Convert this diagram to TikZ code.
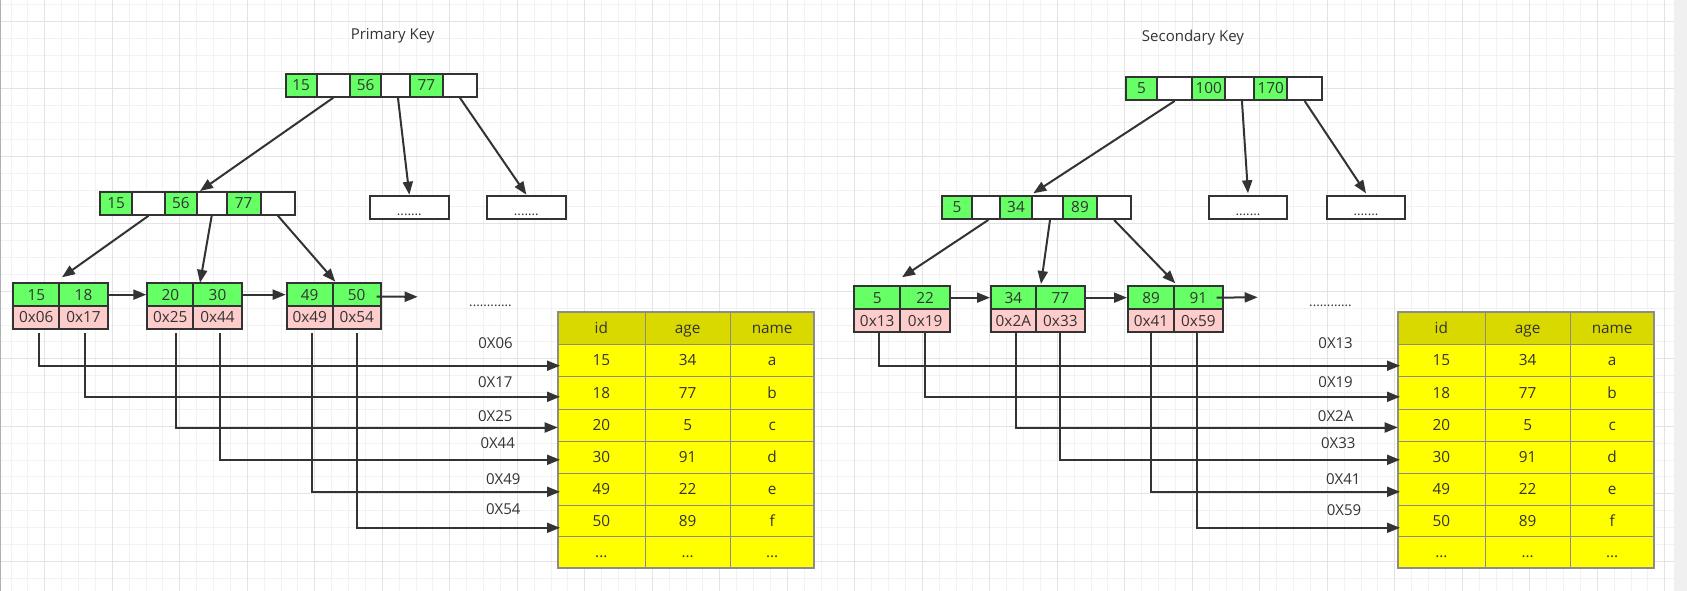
\documentclass[tikz,border=0pt]{standalone}
\usepackage{fontspec}
\setmainfont{Open Sans}
\usetikzlibrary{arrows.meta,calc}

\definecolor{ink}{HTML}{333333}
\definecolor{keyg}{HTML}{66FF66}
\definecolor{ptrp}{HTML}{FFCCCC}
\definecolor{rowy}{HTML}{FFFF00}
\definecolor{heady}{HTML}{D9D900}
\definecolor{tabline}{HTML}{8C8C8C}
\definecolor{gridmin}{HTML}{F2F2F2}
\definecolor{gridmaj}{HTML}{E3E3E3}
\definecolor{sidebar}{HTML}{F0F0F0}
\definecolor{edgeline}{HTML}{B0B0B0}

\tikzset{
  txt/.style={text=ink, inner sep=0pt, font=\fontsize{11.25}{13}\selectfont,
    text height=8.03pt, text depth=0pt},
  celltxt/.style={text=ink, inner sep=0pt, font=\fontsize{11.5}{13}\selectfont,
    text height=8.2pt, text depth=0pt},
  cell/.style={celltxt, draw=ink, line width=1.5pt},
  tabcell/.style={celltxt, draw=tabline, line width=0.75pt},
  conn/.style={draw=ink, line width=1.5pt, -{Triangle[length=9.75pt, width=7.5pt]}},
  gmin/.style={draw=gridmin, line width=0.75pt},
  gmaj/.style={draw=gridmaj, line width=0.75pt},
}

% one cell of a B+ tree node, given by its pixel edges
\newcommand\pxcell[7]{%
  \node[cell, fill=#6, minimum width={(#3-#2)*0.75pt},
        minimum height={(#5-#4)*0.75pt}] (#1) at ({(#2+#3)/2},{(#4+#5)/2}) {#7};}

% one row of the data table: prefix, row, top, bottom, fill, three values, x offset
\newcommand\tabrow[9]{%
  \node[tabcell, fill=#5, minimum width={87.3*0.75pt}, minimum height={(#4-#3)*0.75pt}]
    (#1#2c1) at ({601.35+#9},{(#3+#4)/2}) {#6};
  \node[tabcell, fill=#5, minimum width={85.3*0.75pt}, minimum height={(#4-#3)*0.75pt}]
    (#1#2c2) at ({687.65+#9},{(#3+#4)/2}) {#7};
  \node[tabcell, fill=#5, minimum width={83.7*0.75pt}, minimum height={(#4-#3)*0.75pt}]
    (#1#2c3) at ({772.15+#9},{(#3+#4)/2}) {#8};}

% the whole clustered table, shifted right by #2
\newcommand\datatable[2]{%
  \tabrow{#1}{0}{312}{344.3}{heady}{id}{age}{name}{#2}
  \tabrow{#1}{1}{344.3}{376.7}{rowy}{15}{34}{a}{#2}
  \tabrow{#1}{2}{376.7}{409.3}{rowy}{18}{77}{b}{#2}
  \tabrow{#1}{3}{409.3}{441.7}{rowy}{20}{5}{c}{#2}
  \tabrow{#1}{4}{441.7}{473.3}{rowy}{30}{91}{d}{#2}
  \tabrow{#1}{5}{473.3}{505.3}{rowy}{49}{22}{e}{#2}
  \tabrow{#1}{6}{505.3}{536.7}{rowy}{50}{89}{f}{#2}
  \tabrow{#1}{7}{536.7}{567.7}{rowy}{...}{...}{...}{#2}
  \node[draw=tabline, line width=1.5pt, inner sep=0pt, minimum width={256.3*0.75pt},
        minimum height={255.7*0.75pt}] (#1frame) at ({685.85+#2},439.85) {};}

\begin{document}
\begin{tikzpicture}[x=0.75pt, y=-0.75pt]
  \useasboundingbox (0,0) rectangle (1687,591);
  \fill[white] (0,0) rectangle (1687,591);

  % background grid
  \foreach \i in {0,...,98} \draw[gmin] ({11.05+\i*16.875},0) -- ++(0,591);
  \foreach \j in {0,...,34} \draw[gmin] (0,{4.43+\j*16.875}) -- (1674.3,{4.43+\j*16.875});
  \foreach \i in {0,...,24} \draw[gmaj] ({44.8+\i*67.5},0) -- ++(0,591);
  \foreach \j in {0,...,8} \draw[gmaj] (0,{21.3+\j*67.5}) -- (1674.3,{21.3+\j*67.5});
  \fill[sidebar] (1674.3,0) rectangle (1687,591);
  \draw[edgeline, line width=0.75pt] (0.5,0) -- (0.5,591);

  % ---------------- primary key index ----------------
  \node[txt] (ptitle) at (392.6,34) {Primary Key};

  \pxcell{pa1}{285.7}{316.7}{74}{96.7}{keyg}{15}
  \pxcell{pa2}{316.7}{350}{74}{96.7}{white}{}
  \pxcell{pa3}{350}{381.3}{74}{96.7}{keyg}{56}
  \pxcell{pa4}{381.3}{410}{74}{96.7}{white}{}
  \pxcell{pa5}{410}{442.7}{74}{96.7}{keyg}{77}
  \pxcell{pa6}{442.7}{477}{74}{96.7}{white}{}

  \pxcell{pbox1}{369.7}{449}{195.7}{219.5}{white}{\fontsize{10}{12}\selectfont\raisebox{-2pt}{.......}}
  \pxcell{pbox2}{486.7}{566}{195.7}{219.5}{white}{\fontsize{10}{12}\selectfont\raisebox{-2pt}{.......}}

  \pxcell{pb1}{100}{132.3}{192}{214.7}{keyg}{15}
  \pxcell{pb2}{132.3}{165}{192}{214.7}{white}{}
  \pxcell{pb3}{165}{196.7}{192}{214.7}{keyg}{56}
  \pxcell{pb4}{196.7}{226.7}{192}{214.7}{white}{}
  \pxcell{pb5}{226.7}{260.7}{192}{214.7}{keyg}{77}
  \pxcell{pb6}{260.7}{295}{192}{214.7}{white}{}

  \pxcell{pL1t1}{13.3}{59.3}{283.3}{306}{keyg}{15}
  \pxcell{pL1t2}{59.3}{107.7}{283.3}{306}{keyg}{18}
  \pxcell{pL1b1}{13.3}{59.3}{306}{328.7}{ptrp}{0x06}
  \pxcell{pL1b2}{59.3}{107.7}{306}{328.7}{ptrp}{0x17}
  \pxcell{pL2t1}{147.3}{193.3}{283.3}{306}{keyg}{20}
  \pxcell{pL2t2}{193.3}{241.7}{283.3}{306}{keyg}{30}
  \pxcell{pL2b1}{147.3}{193.3}{306}{328.7}{ptrp}{0x25}
  \pxcell{pL2b2}{193.3}{241.7}{306}{328.7}{ptrp}{0x44}
  \pxcell{pL3t1}{286.7}{332.7}{283.3}{306}{keyg}{49}
  \pxcell{pL3t2}{332.7}{380.7}{283.3}{306}{keyg}{50}
  \pxcell{pL3b1}{286.7}{332.7}{306}{328.7}{ptrp}{0x49}
  \pxcell{pL3b2}{332.7}{380.7}{306}{328.7}{ptrp}{0x54}

  \node[txt, font=\fontsize{10}{12}\selectfont] (pmore) at (490.5,301.5) {............};
  \coordinate (pnext) at (417.7,296.8);

  \datatable{pt}{0}

  \coordinate (pe1) at (560,365.7);
  \coordinate (pe2) at (560,396.8);
  \coordinate (pe3) at (557.7,427.5);
  \coordinate (pe4) at (560,459.8);
  \coordinate (pe5) at (560,491.8);
  \coordinate (pe6) at (560,527.8);

  \draw[conn] (pa2.south) -- ($(pb3.north east)+(2.3,0)$);
  \draw[conn] ($(pa4.south)+(2.3,0)$) -- (pbox1.north);
  \draw[conn] (pa6.south) -- (pbox2.north);
  \draw[conn] (pb2.south) -- ($(pL1t1.north east)+(1.7,-5)$);
  \draw[conn] (pb4.south) -- ($(pL2t1.north east)+(5.7,0.5)$);
  \draw[conn] (pb6.south) -- ($(pL3t1.north east)+(1.6,-0.6)$);
  \draw[conn] (pL1t2.east) -- (pL2t1.west);
  \draw[conn] (pL2t2.east) -- (pL3t1.west);
  \draw[conn] ($(pL3t2.east)+(-5,2)$) -- (pnext);

  \draw[conn] ($(pL1b1.south)+(3,3.3)$) |- (pe1);
  \draw[conn] ($(pL1b2.south)+(1.5,3.3)$) |- (pe2);
  \draw[conn] ($(pL2b1.south)+(5.4,3.3)$) |- (pe3);
  \draw[conn] ($(pL2b2.south)+(2.5,3.3)$) |- (pe4);
  \draw[conn] ($(pL3b1.south)+(2,3.3)$) |- (pe5);
  \draw[conn] ($(pL3b2.south)+(0,3.3)$) |- (pe6);

  \node[txt] (plab1) at (495.5,342.7) {0X06};
  \node[txt] (plab2) at (495.3,381.7) {0X17};
  \node[txt] (plab3) at (495.3,415.7) {0X25};
  \node[txt] (plab4) at (497.7,443.3) {0X44};
  \node[txt] (plab5) at (503.3,479) {0X49};
  \node[txt] (plab6) at (503.3,509.3) {0X54};

  % ---------------- secondary key index ----------------
  \node[txt] (stitle) at (1193,35.8) {Secondary Key};

  \pxcell{sa1}{1125.7}{1157.3}{76.7}{100}{keyg}{5}
  \pxcell{sa2}{1157.3}{1192}{76.7}{100}{white}{}
  \pxcell{sa3}{1192}{1225.3}{76.7}{100}{keyg}{100}
  \pxcell{sa4}{1225.3}{1254}{76.7}{100}{white}{}
  \pxcell{sa5}{1254}{1287.3}{76.7}{100}{keyg}{170}
  \pxcell{sa6}{1287.3}{1322}{76.7}{100}{white}{}

  \pxcell{sbox1}{1209}{1287}{195.7}{219.5}{white}{\fontsize{10}{12}\selectfont\raisebox{-2pt}{.......}}
  \pxcell{sbox2}{1327}{1405}{195.7}{219.5}{white}{\fontsize{10}{12}\selectfont\raisebox{-2pt}{.......}}

  \pxcell{sb1}{941.7}{972.3}{196}{219}{keyg}{5}
  \pxcell{sb2}{972.3}{999.7}{196}{219}{white}{}
  \pxcell{sb3}{999.7}{1032.3}{196}{219}{keyg}{34}
  \pxcell{sb4}{1032.3}{1062.7}{196}{219}{white}{}
  \pxcell{sb5}{1062.7}{1097.3}{196}{219}{keyg}{89}
  \pxcell{sb6}{1097.3}{1131}{196}{219}{white}{}

  \pxcell{sL1t1}{854}{900.3}{286}{309.3}{keyg}{5}
  \pxcell{sL1t2}{900.3}{950}{286}{309.3}{keyg}{22}
  \pxcell{sL1b1}{854}{900.3}{309.3}{332}{ptrp}{0x13}
  \pxcell{sL1b2}{900.3}{950}{309.3}{332}{ptrp}{0x19}
  \pxcell{sL2t1}{991}{1035.7}{286}{309.3}{keyg}{34}
  \pxcell{sL2t2}{1035.7}{1085}{286}{309.3}{keyg}{77}
  \pxcell{sL2b1}{991}{1035.7}{309.3}{332}{ptrp}{0x2A}
  \pxcell{sL2b2}{1035.7}{1085}{309.3}{332}{ptrp}{0x33}
  \pxcell{sL3t1}{1128}{1174}{286}{309.3}{keyg}{89}
  \pxcell{sL3t2}{1174}{1222.7}{286}{309.3}{keyg}{91}
  \pxcell{sL3b1}{1128}{1174}{309.3}{332}{ptrp}{0x41}
  \pxcell{sL3b2}{1174}{1222.7}{309.3}{332}{ptrp}{0x59}

  \node[txt, font=\fontsize{10}{12}\selectfont] (smore) at (1330.5,301) {............};
  \coordinate (snext) at (1257.7,297.3);

  \datatable{st}{840}

  \coordinate (se1) at (1400,365.7);
  \coordinate (se2) at (1400,396.8);
  \coordinate (se3) at (1397.7,427.5);
  \coordinate (se4) at (1400,459.8);
  \coordinate (se5) at (1400,491.8);
  \coordinate (se6) at (1400,527.8);

  \draw[conn] (sa2.south) -- ($(sb3.north east)+(0,-1.7)$);
  \draw[conn] ($(sa4.south)+(2.3,0)$) -- ($(sbox1.north)+(0,-1.4)$);
  \draw[conn] (sa6.south) -- ($(sbox2.north)+(0,-1.4)$);
  \draw[conn] ($(sb2.south)+(2.3,0)$) -- ($(sL1t1.north east)+(0.7,-7.7)$);
  \draw[conn] ($(sb4.south)+(2.5,0)$) -- ($(sL2t1.north east)+(4.3,-1)$);
  \draw[conn] (sb6.south) -- ($(sL3t1.north east)+(0.3,-1.7)$);
  \draw[conn] (sL1t2.east) -- (sL2t1.west);
  \draw[conn] (sL2t2.east) -- (sL3t1.west);
  \draw[conn] ($(sL3t2.east)+(-7,0)$) -- (snext);

  \draw[conn] ($(sL1b1.south)+(2.1,0)$) |- (se1);
  \draw[conn] (sL1b2.south) |- (se2);
  \draw[conn] ($(sL2b1.south)+(2.4,0)$) |- (se3);
  \draw[conn] (sL2b2.south) |- (se4);
  \draw[conn] (sL3b1.south) |- (se5);
  \draw[conn] ($(sL3b2.south)+(-1,0)$) |- (se6);

  \node[txt] (slab1) at (1335.6,342.7) {0X13};
  \node[txt] (slab2) at (1335.6,381.7) {0X19};
  \node[txt] (slab3) at (1335.6,415.7) {0X2A};
  \node[txt] (slab4) at (1338.3,442.7) {0X33};
  \node[txt] (slab5) at (1343.2,479) {0X41};
  \node[txt] (slab6) at (1344,509.7) {0X59};
\end{tikzpicture}
\end{document}
